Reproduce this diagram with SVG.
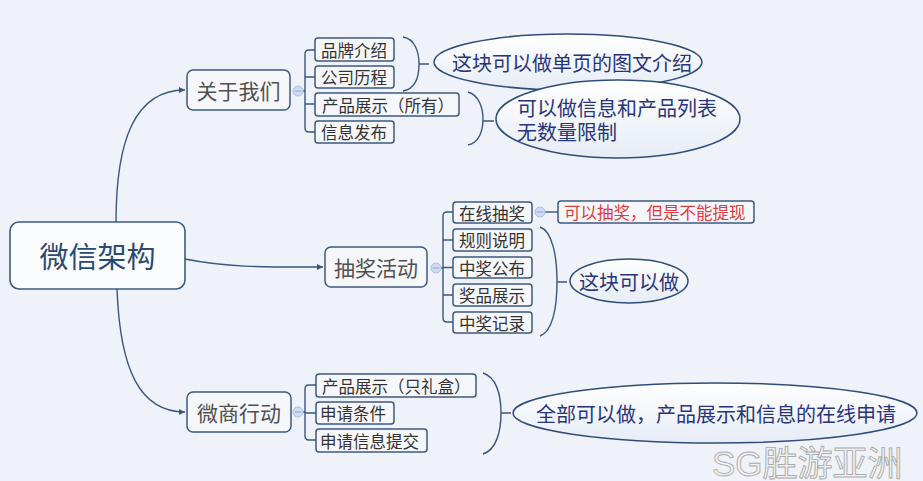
<svg xmlns="http://www.w3.org/2000/svg" width="923" height="481" viewBox="0 0 923 481">
<defs>
<style>
.bg{fill:#eff2f8}
.root{fill:#fbfcfe;stroke:#3d5a80;stroke-width:1.6}
.main{fill:#f6f7fb;stroke:#3d5a80;stroke-width:1.5}
.leaf{fill:#f6f7fb;stroke:#3d5a80;stroke-width:1.5}
.ell{fill:url(#eg);stroke:#2f4d7a;stroke-width:1.5}
.conn{fill:none;stroke:#3a5680;stroke-width:1.4}
.br{fill:none;stroke:#3a5680;stroke-width:1.4}
.dot{fill:#cfdcf2;stroke:#a9bfe3;stroke-width:1}
.dash{stroke:#8aa6d6;stroke-width:1}
text{font-family:"Noto Sans CJK SC","Noto Sans",sans-serif;dominant-baseline:central}
.t-root{font-size:29px;fill:#2a4a72;text-anchor:middle}
.t-main{font-size:21px;fill:#505050;text-anchor:middle}
.t-leaf{font-size:16.5px;fill:#333;text-anchor:start}
.t-ell{font-size:20px;fill:#28357a}
.t-red{font-size:16.5px;fill:#e03a3a}
.wm{font-family:"Liberation Sans","Noto Sans CJK SC",sans-serif;font-size:35px;fill:#f2f2f2;stroke:#aaaaaa;stroke-width:0.9}
</style>
<linearGradient id="eg" x1="0" y1="0" x2="0" y2="1">
<stop offset="0" stop-color="#ffffff"/>
<stop offset="1" stop-color="#e6ecf6"/>
</linearGradient>
<marker id="arr" markerWidth="8" markerHeight="8" refX="6" refY="4" orient="auto" markerUnits="userSpaceOnUse">
<path d="M0,1 L6,4 L0,7 Z" fill="#3a5680"/>
</marker>
</defs>
<rect class="bg" x="0" y="0" width="923" height="481"/>

<g id="connectors">
<path class="conn" d="M116,222 C116,140 135,90 185,90" marker-end="url(#arr)"/>
<path class="conn" d="M185,259 C230,268 270,267 323,267" marker-end="url(#arr)"/>
<path class="conn" d="M117,289 C120,370 140,412 185,412" marker-end="url(#arr)"/>
<path class="br" d="M303,91 H305 M315,50 H309 Q305,50 305,54 V128 Q305,132 309,132 H315 M305,77 H315 M305,104 H315"/>
<path class="br" d="M441,268 H443 M453,212 H447 Q443,212 443,216 V318 Q443,322 447,322 H453 M443,240 H453 M443,267.5 H453 M443,295 H453"/>
<path class="br" d="M545,212 H558"/>
<path class="br" d="M303,412 H305 M316,385 H309 Q305,385 305,389 V436 Q305,440 309,440 H316 M305,413 H316"/>
<path class="br" d="M403,37 C415,39 419,52 419,64 C419,77 415,89 403,91 M419,64 H429"/>
<path class="br" d="M468,92 C479,95 483,108 483,119 C483,131 479,143 468,145 M483,121 H494"/>
<path class="br" d="M540,227 C552,231 557,255 557,282 C557,309 552,332 540,336 M557,282 H567"/>
<path class="br" d="M483,373 C496,377 501,394 501,413 C501,432 496,450 483,454 M501,413 H511"/>
</g>

<g id="root">
<rect class="root" x="10" y="222" width="175" height="67" rx="9"/>
<text class="t-root" x="97.5" y="255">微信架构</text>
</g>

<g id="about">
<rect class="main" x="187" y="70" width="103" height="40" rx="6"/>
<text class="t-main" x="238.5" y="90">关于我们</text>
<circle class="dot" cx="298" cy="91" r="5"/>
<line class="dash" x1="295" y1="91" x2="301" y2="91"/>
</g>
<g id="brand"><rect class="leaf" x="315" y="38" width="79" height="23" rx="3"/><text class="t-leaf" x="321" y="49.5">品牌介绍</text></g>
<g id="history"><rect class="leaf" x="315" y="66" width="79" height="22" rx="3"/><text class="t-leaf" x="321" y="77">公司历程</text></g>
<g id="products-all"><rect class="leaf" x="315" y="93" width="144" height="23" rx="3"/><text class="t-leaf" x="322" y="104.5">产品展示（所有）</text></g>
<g id="news"><rect class="leaf" x="315" y="121" width="79" height="22" rx="3"/><text class="t-leaf" x="321" y="132">信息发布</text></g>

<g id="note1">
<ellipse class="ell" cx="568" cy="62" rx="134" ry="28"/>
<text class="t-ell" x="572" y="62" text-anchor="middle">这块可以做单页的图文介绍</text>
</g>
<g id="note2">
<ellipse class="ell" cx="618" cy="119" rx="122" ry="39"/>
<text class="t-ell"><tspan x="517" y="107">可以做信息和产品列表</tspan><tspan x="517" y="131">无数量限制</tspan></text>
</g>

<g id="lottery">
<rect class="main" x="325" y="247" width="102" height="40" rx="6"/>
<text class="t-main" x="376" y="267">抽奖活动</text>
<circle class="dot" cx="436" cy="268" r="5"/>
<line class="dash" x1="433" y1="268" x2="439" y2="268"/>
</g>
<g id="online-lottery">
<rect class="leaf" x="453" y="202" width="79" height="21" rx="3"/><text class="t-leaf" x="459" y="212.5">在线抽奖</text>
<circle class="dot" cx="540" cy="212" r="5"/>
<line class="dash" x1="537" y1="212" x2="543" y2="212"/>
</g>
<g id="rules"><rect class="leaf" x="453" y="229" width="79" height="22" rx="3"/><text class="t-leaf" x="459" y="240">规则说明</text></g>
<g id="winners"><rect class="leaf" x="453" y="257" width="79" height="21" rx="3"/><text class="t-leaf" x="459" y="267.5">中奖公布</text></g>
<g id="prizes"><rect class="leaf" x="453" y="284" width="79" height="22" rx="3"/><text class="t-leaf" x="459" y="295">奖品展示</text></g>
<g id="records"><rect class="leaf" x="453" y="312" width="79" height="21" rx="3"/><text class="t-leaf" x="459" y="322.5">中奖记录</text></g>
<g id="red-note"><rect class="leaf" x="558" y="201" width="196" height="22" rx="3"/><text class="t-red" x="564" y="212">可以抽奖，但是不能提现</text></g>
<g id="note3">
<ellipse class="ell" cx="629" cy="281" rx="59" ry="22"/>
<text class="t-ell" x="629" y="281" text-anchor="middle">这块可以做</text>
</g>

<g id="shop">
<rect class="main" x="187" y="392" width="104" height="40" rx="6"/>
<text class="t-main" x="239" y="412">微商行动</text>
<circle class="dot" cx="298" cy="412" r="5"/>
<line class="dash" x1="295" y1="412" x2="301" y2="412"/>
</g>
<g id="products-gift"><rect class="leaf" x="316" y="374" width="160" height="23" rx="3"/><text class="t-leaf" x="322" y="385.5">产品展示（只礼盒）</text></g>
<g id="conditions"><rect class="leaf" x="316" y="402" width="78" height="22" rx="3"/><text class="t-leaf" x="320" y="413">申请条件</text></g>
<g id="submit"><rect class="leaf" x="316" y="429" width="111" height="23" rx="3"/><text class="t-leaf" x="320" y="440.5">申请信息提交</text></g>
<g id="note4">
<ellipse class="ell" cx="715" cy="413" rx="202" ry="30"/>
<text class="t-ell" x="716" y="413" text-anchor="middle">全部可以做，产品展示和信息的在线申请</text>
</g>

<text class="wm" x="712" y="463" dominant-baseline="auto">SG胜游亚洲</text>
</svg>
